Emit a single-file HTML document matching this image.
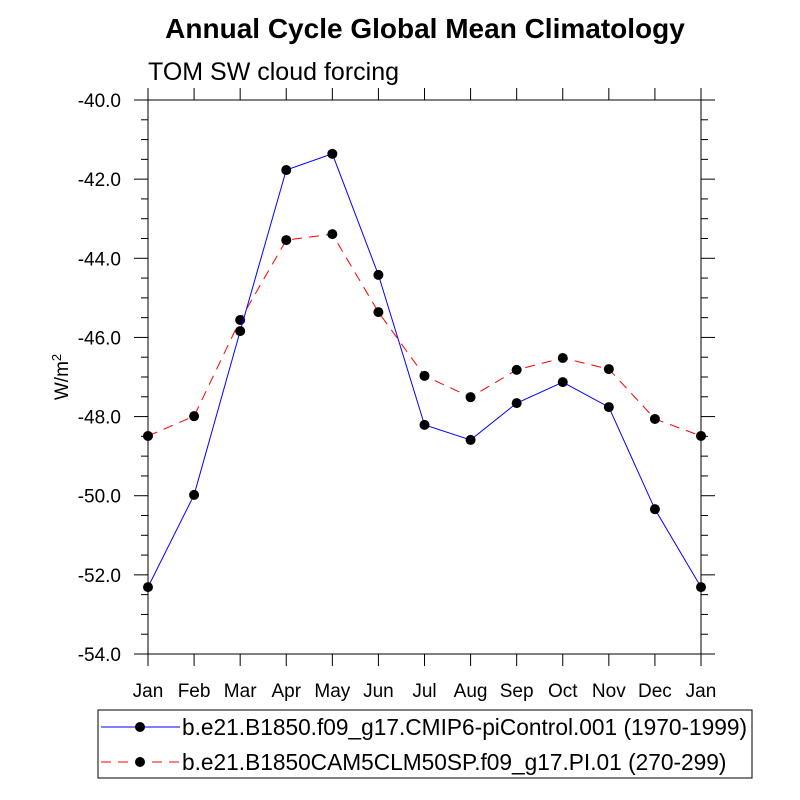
<!DOCTYPE html>
<html><head><meta charset="utf-8"><style>
html,body{margin:0;padding:0;background:#fff;}
svg{display:block;font-family:"Liberation Sans",Arial,sans-serif;}
</style></head><body>
<svg id="chart" width="800" height="800" viewBox="0 0 800 800">
<text x="425" y="38" text-anchor="middle" font-size="28" font-weight="bold">Annual Cycle Global Mean Climatology</text>
<text x="148" y="80" font-size="25">TOM SW cloud forcing</text>
<text transform="translate(68,377) rotate(-90)" text-anchor="middle" font-size="19">W/m<tspan dy="-7" font-size="13">2</tspan></text>
<g id="axes"></g>
<g id="series"></g>
<g id="legend">
<rect x="98" y="710" width="654" height="68" fill="#fff" stroke="#000" stroke-width="1"/>
<g>
<line x1="101" y1="727" x2="180" y2="727" stroke="#0000ff" stroke-width="1"/>
<circle cx="140" cy="727" r="5" fill="#000"/>
<text x="182" y="735" font-size="22.7">b.e21.B1850.f09_g17.CMIP6-piControl.001 (1970-1999)</text>
</g>
<g>
<line x1="101" y1="762" x2="180" y2="762" stroke="#ff0000" stroke-width="1" stroke-dasharray="10,7"/>
<circle cx="140" cy="762" r="5" fill="#000"/>
<text x="182" y="770" font-size="22.7">b.e21.B1850CAM5CLM50SP.f09_g17.PI.01 (270-299)</text>
</g>
</g>
</svg>
<script>
const months = ["Jan","Feb","Mar","Apr","May","Jun","Jul","Aug","Sep","Oct","Nov","Dec","Jan"];
const cmip6Values = [-52.31,-49.98,-45.84,-41.77,-41.36,-44.42,-48.21,-48.59,-47.66,-47.13,-47.76,-50.34,-52.31];
const cam5Values = [-48.49,-47.99,-45.56,-43.54,-43.39,-45.36,-46.97,-47.51,-46.82,-46.52,-46.80,-48.06,-48.49];
const yTickLabels = ["-40.0","-42.0","-44.0","-46.0","-48.0","-50.0","-52.0","-54.0"];
const yMax = -40, yMin = -54;

const NS = "http://www.w3.org/2000/svg";
const L = 148, R = 701, T = 100, B = 654;
const xScale = i => L + (R - L) * i / (months.length - 1);
const yScale = v => T + (B - T) * (yMax - v) / (yMax - yMin);
function mk(tag, attrs, parent) {
  const e = document.createElementNS(NS, tag);
  for (const k in attrs) e.setAttribute(k, attrs[k]);
  parent.appendChild(e);
  return e;
}
const axes = document.getElementById("axes");
const frame = mk("rect", {x:L, y:T, width:R-L, height:B-T, fill:"none", stroke:"#000", "stroke-width":1}, axes);


months.forEach((m, i) => {
  const x = xScale(i);
  mk("line", {x1:x, y1:B, x2:x, y2:B+12, stroke:"#000"}, axes);
  mk("line", {x1:x, y1:T, x2:x, y2:T-12, stroke:"#000"}, axes);
  const t = mk("text", {x:x, y:B+43, "text-anchor":"middle", "font-size":19}, axes);
  t.textContent = m;
  
  
});
for (let v = yMax; v >= yMin - 0.001; v -= 0.5) {
  const y = yScale(v);
  const major = Math.abs(Math.round(v) - v) < 0.01 && Math.round(v) % 2 === 0;
  const len = major ? 14 : 7;
  mk("line", {x1:L, y1:y, x2:L-len, y2:y, stroke:"#000"}, axes);
  mk("line", {x1:R, y1:y, x2:R+len, y2:y, stroke:"#000"}, axes);
}
yTickLabels.forEach(lbl => {
  const y = yScale(parseFloat(lbl));
  const t = mk("text", {x:121, y:y+7, "text-anchor":"end", "font-size":19}, axes);
  t.textContent = lbl;
  
  
});
const series = document.getElementById("series");
function drawSeries(vals, color, dash, name) {
  const g = mk("g", {}, series);
  
  
  const pts = vals.map((v, i) => xScale(i) + "," + yScale(v)).join(" ");
  const attrs = {points:pts, fill:"none", stroke:color, "stroke-width":1};
  if (dash) attrs["stroke-dasharray"] = dash;
  const line = mk("polyline", attrs, g);
  
  
  vals.forEach((v, i) => {
    const c = mk("circle", {cx:xScale(i), cy:yScale(v), r:5, fill:"#000"}, g);
    
    
  });
}
drawSeries(cam5Values, "#ff0000", "10,7", "series-cam5");
drawSeries(cmip6Values, "#0000ff", null, "series-cmip6");
</script>
</body></html>
